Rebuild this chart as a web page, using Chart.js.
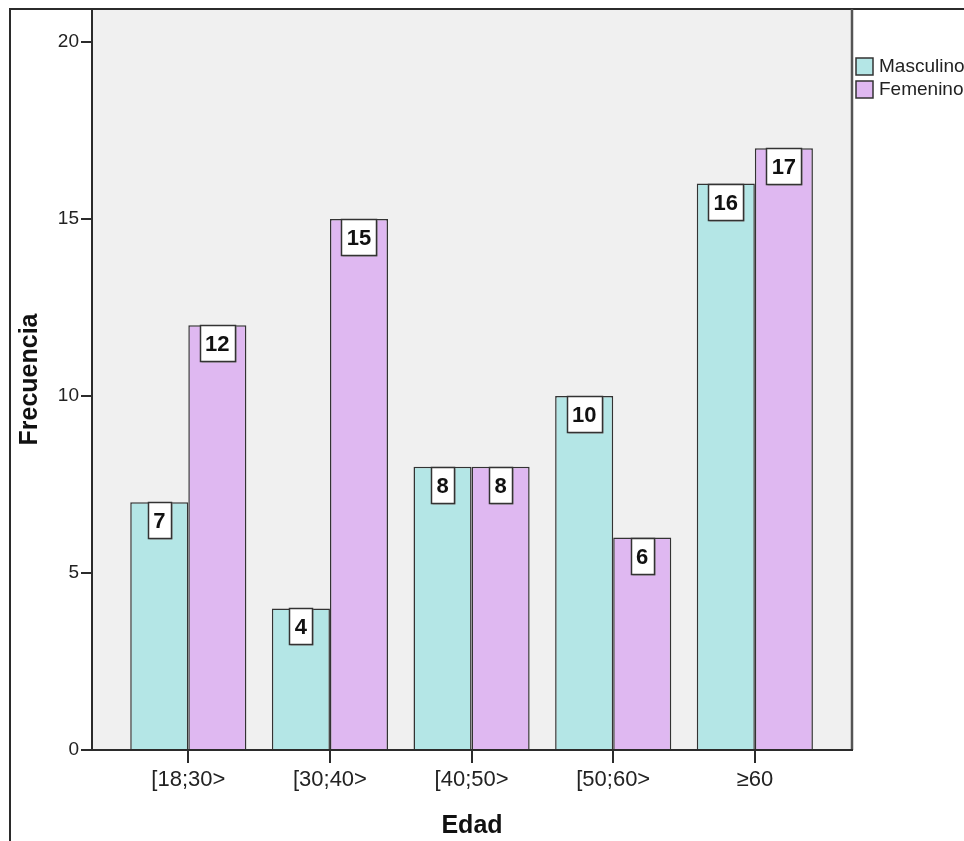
<!DOCTYPE html>
<html>
<head>
<meta charset="utf-8">
<script src="https://cdn.jsdelivr.net/npm/chart.js@4"></script>
<style>
  html, body { margin: 0; padding: 0; background: #ffffff; }
  #wrap { width: 964px; height: 841px; }
</style>
</head>
<body>
<div id="wrap"><canvas id="c" width="964" height="841"></canvas></div>
<script>
// Age groups and counts per sex
const categories = ['[18;30>', '[30;40>', '[40;50>', '[50;60>', '\u226560'];
const masculino = [7, 4, 8, 10, 16];
const femenino = [12, 15, 8, 6, 17];
const yTicks = [0, 5, 10, 15, 20];

const FONT = '"Liberation Sans", Arial, sans-serif';
const COL_M = '#b4e6e6';
const COL_F = '#dfb8f1';
const LINE = '#2b2b2b';

// Plot background, outer frame and plot border
const framePlugin = {
  id: 'frame',
  beforeDraw(chart) {
    const { ctx, chartArea: a } = chart;
    ctx.save();
    ctx.fillStyle = '#f0f0f0';
    ctx.fillRect(a.left, a.top, a.right - a.left, a.bottom - a.top);
    ctx.strokeStyle = LINE;
    ctx.lineWidth = 2;
    ctx.beginPath();
    ctx.moveTo(10, chart.height);
    ctx.lineTo(10, a.top);
    ctx.lineTo(chart.width, a.top);
    ctx.stroke();
    ctx.strokeStyle = '#555';
    ctx.lineWidth = 2.5;
    ctx.beginPath();
    ctx.moveTo(a.right, a.top);
    ctx.lineTo(a.right, a.bottom);
    ctx.stroke();
    ctx.restore();
  }
};

// Value boxes at the top of each bar
const valueBoxPlugin = {
  id: 'valueBoxes',
  afterDatasetsDraw(chart) {
    const { ctx } = chart;
    ctx.save();
    ctx.font = 'bold 22px ' + FONT;
    ctx.textAlign = 'center';
    ctx.textBaseline = 'middle';
    chart.data.datasets.forEach((ds, di) => {
      const meta = chart.getDatasetMeta(di);
      meta.data.forEach((bar, i) => {
        const v = ds.data[i].y;
        const txt = String(v);
        const w = Math.round(ctx.measureText(txt).width) + 11;
        const h = 36;
        const x0 = Math.round(bar.x - w / 2) + 0.5;
        const y0 = Math.round(bar.y) + 0.5;
        ctx.fillStyle = '#9a9a9a';
        ctx.fillRect(x0 + 1, y0 + 1, w, h);
        ctx.fillStyle = '#ffffff';
        ctx.fillRect(x0, y0, w, h);
        ctx.strokeStyle = '#333';
        ctx.lineWidth = 1.5;
        ctx.strokeRect(x0, y0, w, h);
        ctx.fillStyle = '#111';
        ctx.fillText(txt, bar.x, y0 + h / 2 + 1);
      });
    });
    ctx.restore();
  }
};

// Legend at the right of the plot
const legendPlugin = {
  id: 'sideLegend',
  afterDraw(chart) {
    const { ctx, chartArea: a } = chart;
    ctx.save();
    ctx.font = '19px ' + FONT;
    ctx.textBaseline = 'middle';
    ctx.textAlign = 'left';
    chart.data.datasets.forEach((ds, i) => {
      const y = 58 + i * 23;
      ctx.fillStyle = ds.backgroundColor;
      ctx.fillRect(a.right + 4, y, 17, 17);
      ctx.strokeStyle = '#333';
      ctx.lineWidth = 1.5;
      ctx.strokeRect(a.right + 4, y, 17, 17);
      ctx.fillStyle = '#222';
      ctx.fillText(ds.label, a.right + 27, y + 9);
    });
    ctx.restore();
  }
};

new Chart(document.getElementById('c'), {
  type: 'bar',
  data: {
    datasets: [
      {
        label: 'Masculino',
        data: masculino.map((v, i) => ({ x: i, y: v })),
        backgroundColor: COL_M,
        borderColor: '#333',
        borderWidth: 1.5
      },
      {
        label: 'Femenino',
        data: femenino.map((v, i) => ({ x: i, y: v })),
        backgroundColor: COL_F,
        borderColor: '#333',
        borderWidth: 1.5
      }
    ]
  },
  options: {
    responsive: false,
    animation: false,
    devicePixelRatio: 1,
    categoryPercentage: 0.82,
    barPercentage: 1.0,
    layout: { padding: { top: 9, right: 112, left: 0, bottom: 0 } },
    plugins: {
      legend: { display: false },
      tooltip: { enabled: false }
    },
    scales: {
      x: {
        type: 'linear',
        position: 'bottom',
        offset: false,
        min: -0.68,
        max: 4.686,
        afterBuildTicks(scale) {
          scale.ticks = categories.map((c, i) => ({ value: i }));
        },
        afterFit(scale) {
          scale.height = 91;
          scale.paddingLeft = 0;
          scale.paddingRight = 0;
        },
        ticks: {
          autoSkip: false,
          maxRotation: 0,
          padding: 4,
          color: '#222',
          font: { family: FONT, size: 22 },
          callback: (v) => categories[v]
        },
        grid: {
          offset: false,
          drawOnChartArea: false,
          drawTicks: true,
          tickLength: 13,
          color: LINE,
          lineWidth: 2
        },
        border: { display: true, color: LINE, width: 2 },
        title: {
          display: true,
          text: 'Edad',
          color: '#111',
          font: { family: FONT, size: 25, weight: 'bold' },
          padding: { top: 0, bottom: 0 }
        }
      },
      y: {
        type: 'linear',
        min: 0,
        max: 20.93,
        afterBuildTicks(scale) {
          scale.ticks = yTicks.map(v => ({ value: v }));
        },
        afterFit(scale) {
          scale.width = 92;
          scale.paddingTop = 0;
          scale.paddingBottom = 0;
        },
        ticks: {
          padding: 2,
          color: '#222',
          font: { family: FONT, size: 19 }
        },
        grid: {
          drawOnChartArea: false,
          drawTicks: true,
          tickLength: 11,
          color: LINE,
          lineWidth: 2
        },
        border: { display: true, color: LINE, width: 2 },
        title: {
          display: true,
          text: 'Frecuencia',
          color: '#111',
          font: { family: FONT, size: 25, weight: 'bold' },
          padding: { top: 15, bottom: 0 }
        }
      }
    }
  },
  plugins: [framePlugin, valueBoxPlugin, legendPlugin]
});
</script>
</body>
</html>
